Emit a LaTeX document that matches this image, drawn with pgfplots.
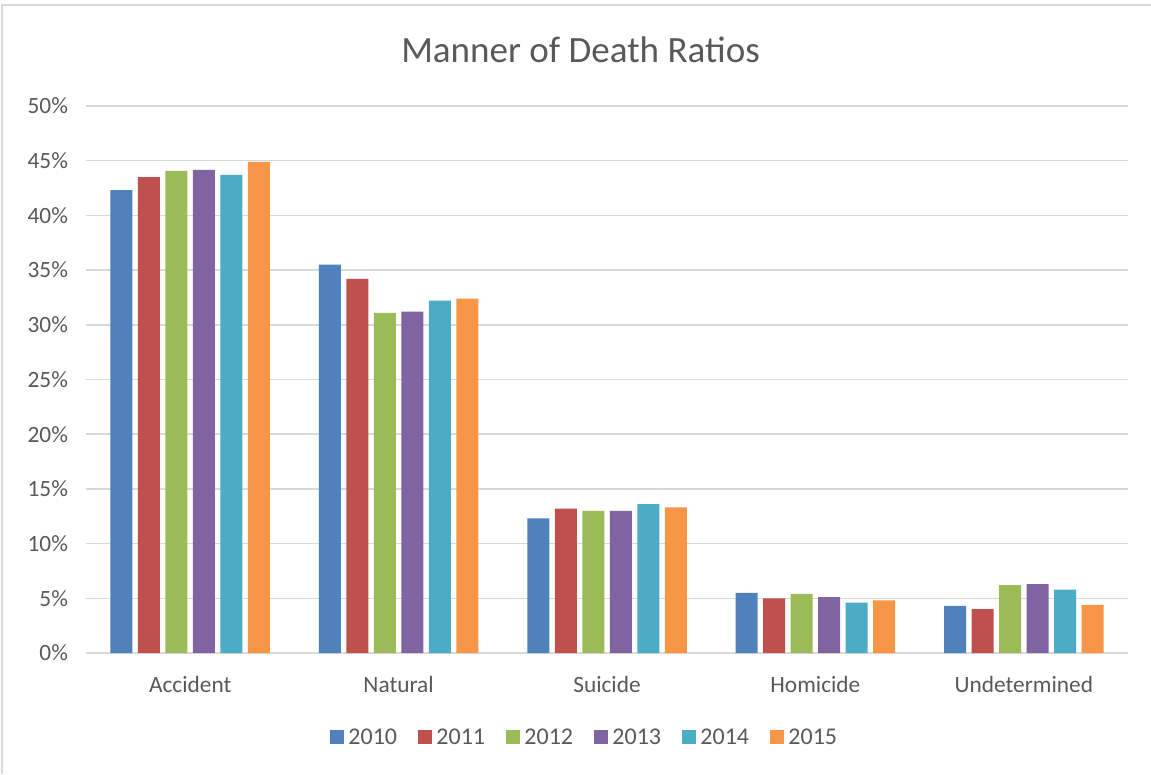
\documentclass[border=0pt]{standalone}
\usepackage{fontspec}
\setmainfont{Carlito}
\usepackage{pgfplots}
\pgfplotsset{compat=1.18}
\definecolor{cA}{HTML}{4F81BD}
\definecolor{cB}{HTML}{C0504D}
\definecolor{cC}{HTML}{9BBB59}
\definecolor{cD}{HTML}{8064A2}
\definecolor{cE}{HTML}{4BACC6}
\definecolor{cF}{HTML}{F79646}
\definecolor{txt}{HTML}{595959}
\definecolor{grd}{HTML}{D9D9D9}

\begin{document}
\begin{tikzpicture}
\path[use as bounding box] (0pt,0pt) rectangle (863.25pt,580.5pt);
\draw[grd,line width=0.9pt] (1.5pt,0pt) -- (1.5pt,576.75pt) -- (863.25pt,576.75pt);
\node[text=txt,font=\fontsize{27.8}{32}\selectfont] at (435.4pt,543pt) {Manner of Death Ratios};
\begin{axis}[at={(64.5pt,90.75pt)},anchor=south west,scale only axis,
 width=781.5pt,height=410.25pt,
 ybar=4.125pt,bar width=16.5pt,
 xmin=-0.5,xmax=4.5,ymin=0,ymax=50,
 axis line style={draw=none},
 ymajorgrids,grid style={grd,line width=1.1pt},
 major tick length=0pt,
 xtick={0,1,2,3,4},
 xticklabels={Accident,Natural,Suicide,Homicide,Undetermined},
 ytick={0,5,...,50},
 yticklabels={0\%,5\%,10\%,15\%,20\%,25\%,30\%,35\%,40\%,45\%,50\%},
 tick label style={text=txt,font=\fontsize{17.5}{20}\selectfont},
 xticklabel style={yshift=-14pt},
 yticklabel style={xshift=-10pt},
 legend columns=6,
 legend style={draw=none,fill=none,at={(0.479,-0.154)},anchor=center,
   font=\fontsize{18}{20}\selectfont,text=txt,
   /tikz/every odd column/.append style={column sep=1pt},
   /tikz/every even column/.append style={column sep=14pt}},
 legend cell align=left,
 legend image code/.code={\fill[#1] (0pt,-5.25pt) rectangle (10.5pt,5.25pt);},
 clip=false]
\addplot[draw=none,fill=cA] coordinates {(0,42.3)(1,35.5)(2,12.3)(3,5.5)(4,4.3)};
\addplot[draw=none,fill=cB] coordinates {(0,43.5)(1,34.2)(2,13.2)(3,5.0)(4,4.0)};
\addplot[draw=none,fill=cC] coordinates {(0,44.06)(1,31.1)(2,13.0)(3,5.4)(4,6.2)};
\addplot[draw=none,fill=cD] coordinates {(0,44.15)(1,31.2)(2,13.0)(3,5.1)(4,6.3)};
\addplot[draw=none,fill=cE] coordinates {(0,43.7)(1,32.2)(2,13.6)(3,4.6)(4,5.8)};
\addplot[draw=none,fill=cF] coordinates {(0,44.9)(1,32.4)(2,13.3)(3,4.8)(4,4.4)};
\legend{2010,2011,2012,2013,2014,2015}
\end{axis}
\end{tikzpicture}
\end{document}
